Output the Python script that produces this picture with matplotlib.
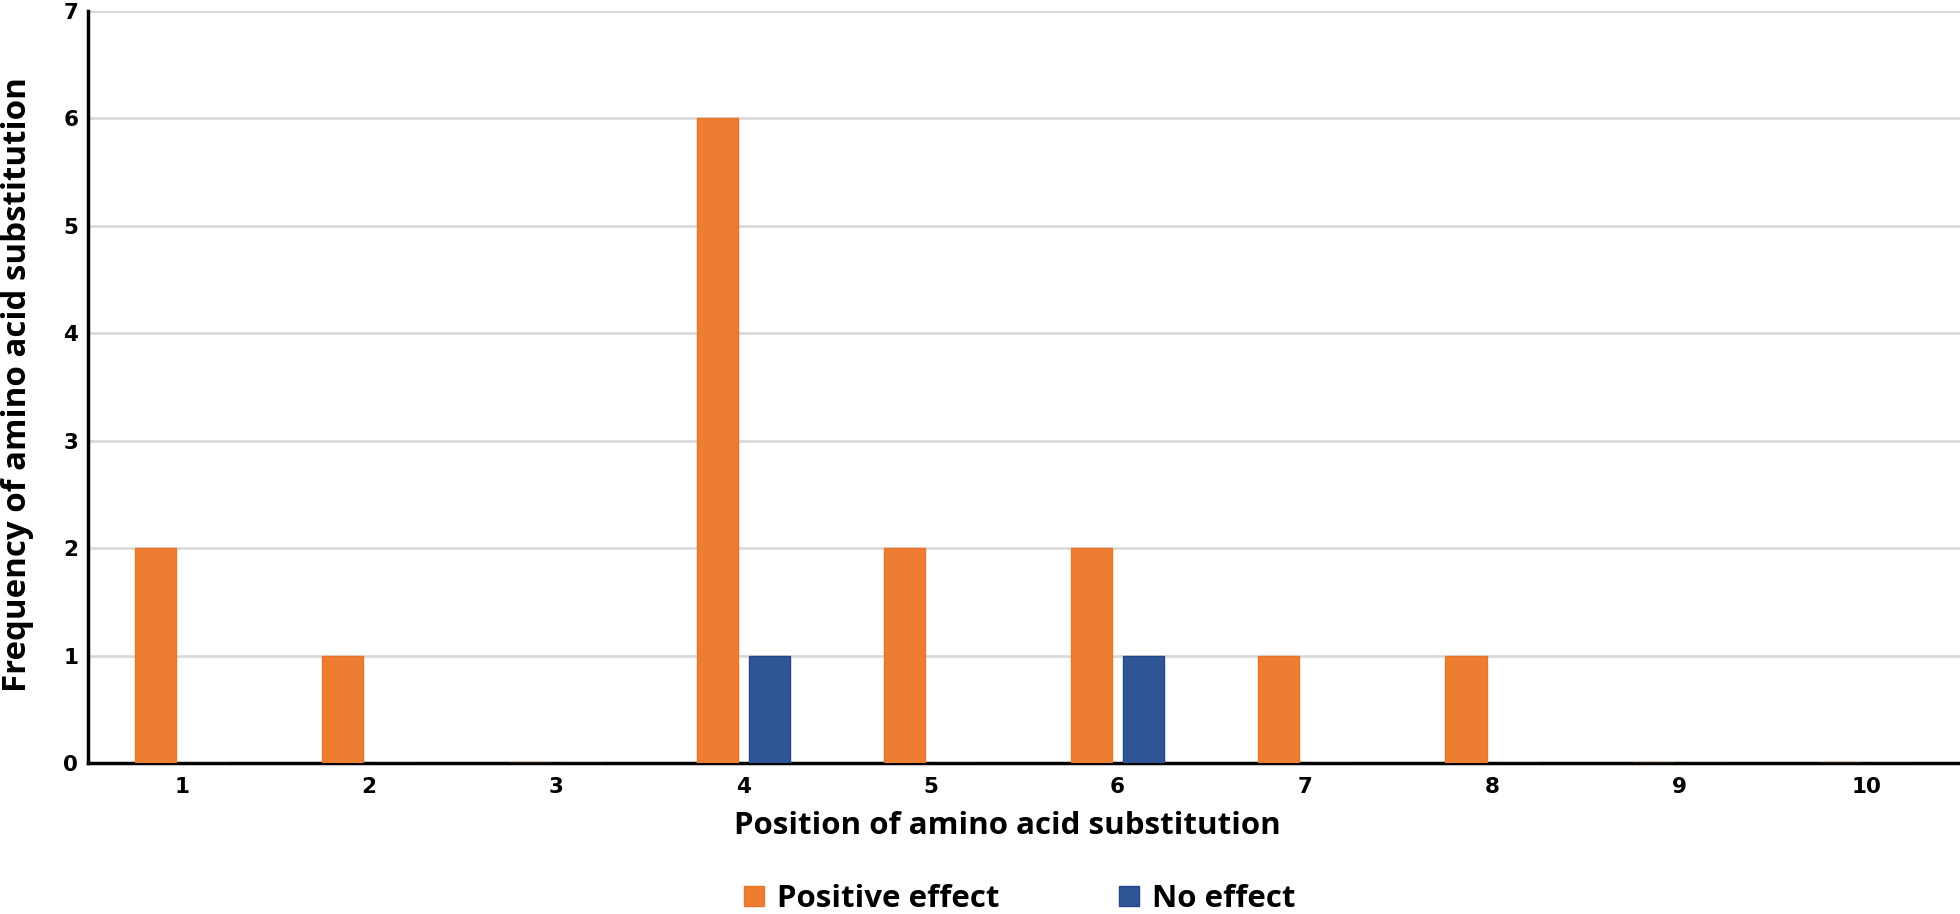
import numpy as np
import matplotlib
matplotlib.use("Agg")
import matplotlib.pyplot as plt
from matplotlib.patches import Patch

# Frequency of substitution per position
positions = [1, 2, 3, 4, 5, 6, 7, 8, 9, 10]
positive_effect = [2, 1, 0, 6, 2, 2, 1, 1, 0, 0]
no_effect = [0, 0, 0, 1, 0, 1, 0, 0, 0, 0]
series_names = ["Positive effect", "No effect"]

orange = "#ED7D31"
blue = "#2F5597"
label_font = ["Open Sans", "DejaVu Sans"]

fig = plt.figure(figsize=(19.6, 9.14), dpi=100)
ax = fig.add_axes([0.0449, 0.1652, 0.9551, 0.823])

x = np.array(positions)
width = 0.22
offset = 0.139
ax.bar(x - offset, positive_effect, width, color=orange, edgecolor="#E8742A", linewidth=1, zorder=3)
ax.bar(x + offset, no_effect, width, color=blue, edgecolor="#25478A", linewidth=1, zorder=3)

ax.set_xlim(0.5, 10.5)
ax.set_ylim(0, 7)
ax.set_xticks(x)
ax.set_xticklabels([str(p) for p in positions])
ax.set_yticks(range(0, 8))

ax.grid(axis="y", color="#d9d9d9", linewidth=2, zorder=0)
ax.set_axisbelow(True)
for side in ["top", "right"]:
    ax.spines[side].set_visible(False)
ax.spines["left"].set_linewidth(2.5)
ax.spines["bottom"].set_linewidth(2.5)
ax.tick_params(axis="both", length=0, labelsize=15.5)
ax.tick_params(axis="x", pad=10)
ax.tick_params(axis="y", pad=7)
for lbl in ax.get_xticklabels() + ax.get_yticklabels():
    lbl.set_fontweight("bold")

ax.set_xlabel("Position of amino acid substitution", fontsize=22.5, fontweight="bold",
              family=label_font, va="center")
ax.set_ylabel("Frequency of amino acid substitution", fontsize=23.8, fontweight="bold",
              family=label_font, va="center")
ax.xaxis.set_label_coords(0.491, -0.084)
ax.yaxis.set_label_coords(-0.0374, 0.503)

handles = [Patch(facecolor=orange, edgecolor="#E8742A"), Patch(facecolor=blue, edgecolor="#25478A")]
fig.legend(handles, series_names, loc="center", bbox_to_anchor=(0.5204, 0.0164), ncol=2,
           frameon=False, handlelength=0.64, handleheight=0.64, columnspacing=3.84,
           handletextpad=0.4, borderaxespad=0, borderpad=0,
           prop={"family": label_font, "weight": "bold", "size": 22.5})

fig.savefig("out.png", dpi=100)
